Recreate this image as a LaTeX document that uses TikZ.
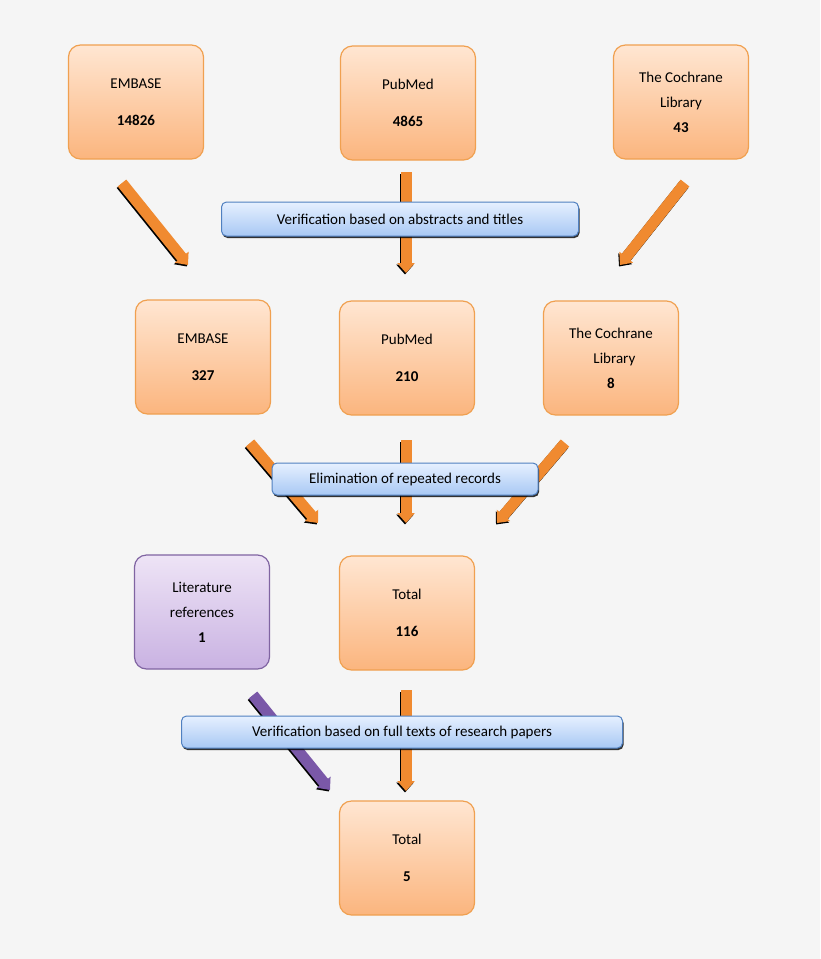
\documentclass[tikz,border=0pt]{standalone}
\usepackage{fontspec}
\setmainfont{Carlito}
\usetikzlibrary{arrows.meta,shadows}
\definecolor{bord}{HTML}{F0A050}
\definecolor{otop}{HTML}{FFE6D2}
\definecolor{obot}{HTML}{FBB57E}
\definecolor{arr}{HTML}{F08A30}
\definecolor{ptop}{HTML}{EEE4F6}
\definecolor{pbot}{HTML}{C9B2E2}
\definecolor{pbord}{HTML}{8064A2}
\definecolor{btop}{HTML}{E6F0FF}
\definecolor{bbot}{HTML}{A8C8F4}
\definecolor{bbord}{HTML}{5080C0}
\definecolor{parr}{HTML}{7A58A8}
\tikzset{
 box/.style={draw=bord,line width=1.2pt,rounded corners=12pt,top color=otop,bottom color=obot,minimum width=135pt,minimum height=114pt,align=center,font=\fontsize{15}{25}\selectfont,inner sep=0pt},
 pbox/.style={box,draw=pbord,top color=ptop,bottom color=pbot},
 bar/.style={draw=bbord,line width=1pt,rounded corners=5pt,top color=btop,bottom color=bbot,align=center,font=\fontsize{15}{18}\selectfont,inner sep=0pt,drop shadow={shadow xshift=1pt,shadow yshift=-2pt,fill=black,opacity=0.8}},
 ar/.style={arr,line width=11pt,-{Triangle[length=10pt,width=17pt]},preaction={draw=black,line width=11pt,transform canvas={xshift=-1pt,yshift=-1.5pt},-{Triangle[length=10pt,width=17pt]}}},
 par/.style={ar,parr}
}
\begin{document}
\begin{tikzpicture}[x=1pt,y=-1pt]
\fill[white!96!black] (0,0) rectangle (820,959);
\useasboundingbox (0,0) rectangle (820,959);
% coordinates for arrows
\coordinate (a1s) at (122,183); \coordinate (a1e) at (188,265);
\coordinate (a2s) at (406,172); \coordinate (a2e) at (406,273);
\coordinate (a3s) at (685,183); \coordinate (a3e) at (620,265);
\coordinate (b1s) at (250,443); \coordinate (b1e) at (318,523);
\coordinate (b2s) at (406,440); \coordinate (b2e) at (406,523);
\coordinate (b3s) at (565,443); \coordinate (b3e) at (497,523);
\coordinate (c1s) at (406,690); \coordinate (c1e) at (406,791);
\coordinate (c2s) at (253,695); \coordinate (c2e) at (330,790);
\draw[ar] (a1s) -- (a1e);
\draw[ar] (a2s) -- (a2e);
\draw[ar] (a3s) -- (a3e);
\draw[ar] (b1s) -- (b1e);
\draw[ar] (b2s) -- (b2e);
\draw[ar] (b3s) -- (b3e);
\draw[ar] (c1s) -- (c1e);
\draw[par] (c2s) -- (c2e);
% boxes
\node[box] (e1) at (136,102) {EMBASE\\[12pt]\textbf{14826}};
\node[box] (p1) at (408,103) {PubMed\\[12pt]\textbf{4865}};
\node[box] (c1) at (681,102) {The Cochrane\\Library\\\textbf{43}};
\node[box] (e2) at (203,357) {EMBASE\\[12pt]\textbf{327}};
\node[box] (p2) at (407,358) {PubMed\\[12pt]\textbf{210}};
\node[box] (c2) at (611,358) {The Cochrane\\\ \ Library\\\textbf{8}};
\node[pbox] (lit) at (202,612) {Literature\\references\\\textbf{1}};
\node[box] (t1) at (407,613) {Total\\[12pt]\textbf{116}};
\node[box] (t2) at (407,858) {Total\\[12pt]\textbf{5}};
% bars
\node[bar,minimum width=357pt,minimum height=34pt] (v1) at (400,219) {Verification based on abstracts and titles};
\node[bar,minimum width=266pt,minimum height=32pt] (v2) at (405,479) {Elimination of repeated records};
\node[bar,minimum width=441pt,minimum height=32pt] (v3) at (402,732) {Verification based on full texts of research papers};
\end{tikzpicture}
\end{document}
